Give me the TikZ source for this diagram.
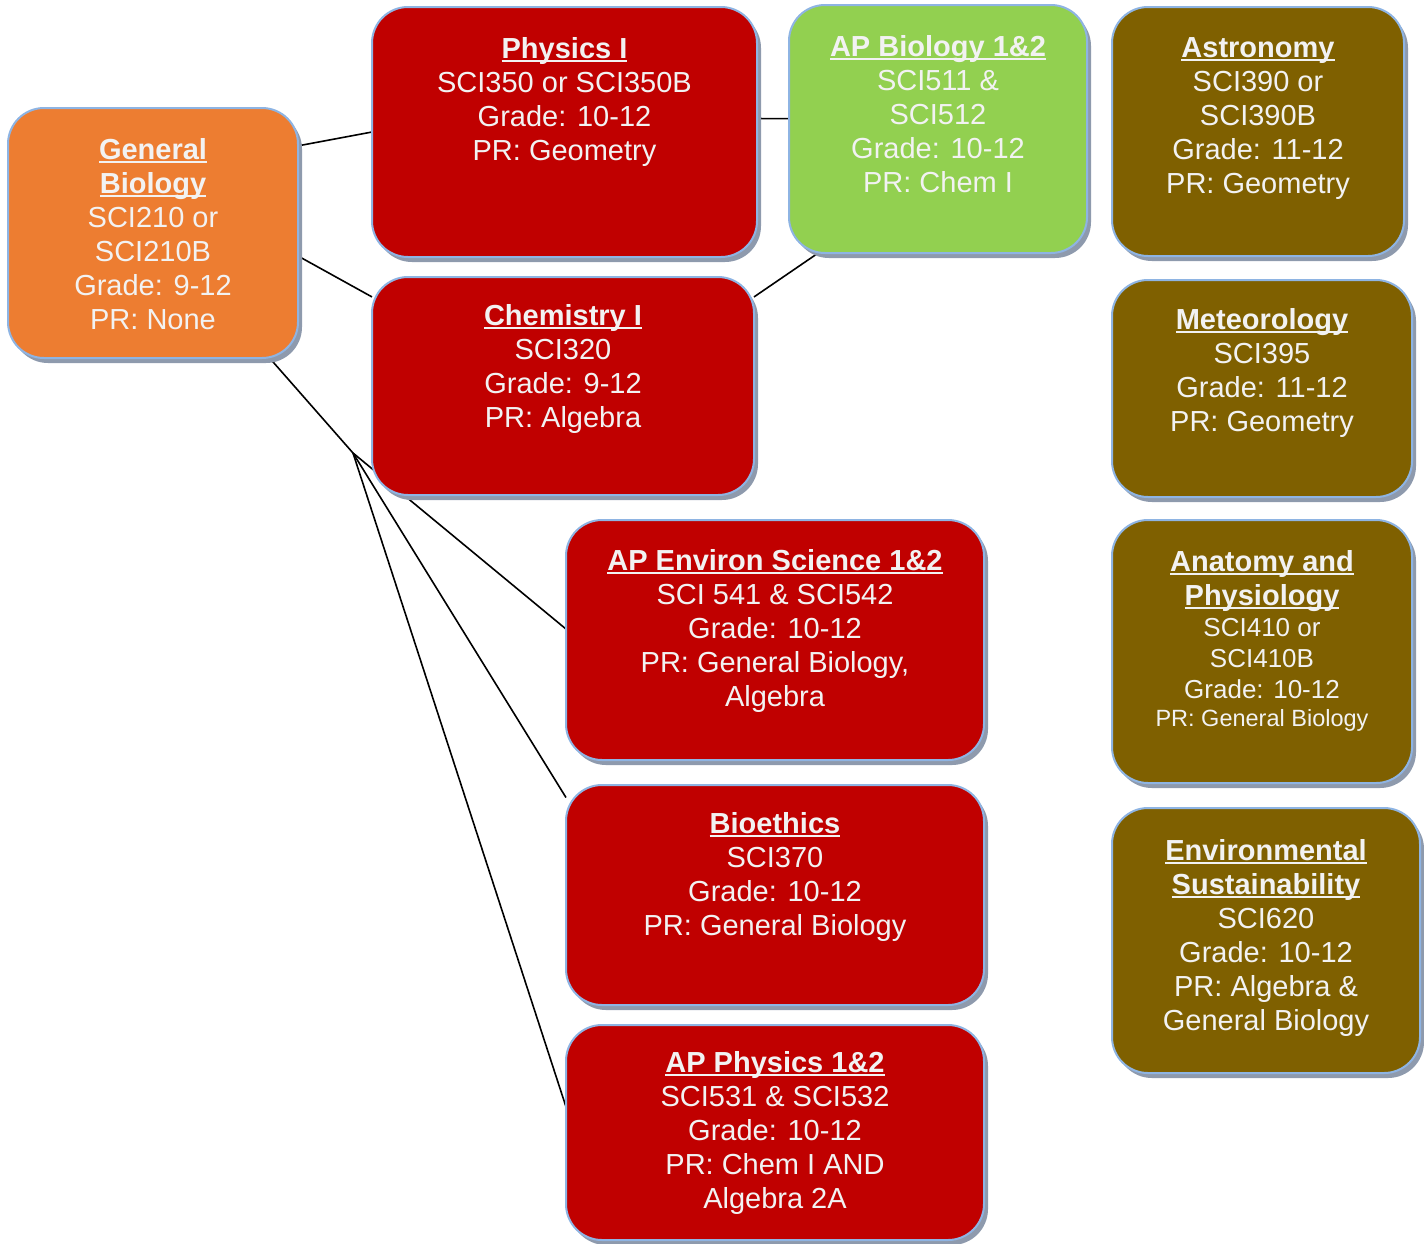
\documentclass[tikz,border=0pt]{standalone}
\usepackage{fontspec}
\setmainfont{Liberation Sans}
\usepackage{tikz}
\usetikzlibrary{shadows,backgrounds}

\definecolor{boxred}{HTML}{C00000}
\definecolor{boxorange}{HTML}{ED7D31}
\definecolor{boxgreen}{HTML}{92D050}
\definecolor{boxbrown}{HTML}{7F6000}
\definecolor{boxedge}{HTML}{8EB4E3}
\definecolor{boxshade}{HTML}{8E9AAD}
\definecolor{boxtext}{HTML}{F2F2F2}

\newcommand\crstitle[1]{\textbf{\setbox0\hbox{#1}\rlap{\rule[-3.5pt]{\wd0}{2pt}}\box0}}

\begin{document}
\begin{tikzpicture}[x=1pt, y=-1pt,
        course/.style={draw=boxedge, line width=2pt, rounded corners=36pt, outer sep=0pt,
            drop shadow={shadow xshift=4pt, shadow yshift=-5pt, fill=boxshade, opacity=1}},
        info/.style={anchor=north, inner sep=0pt, align=center, text=boxtext,
            font=\fontsize{29}{34}\selectfont, yshift=-30pt},
        link/.style={black, line width=1.6pt}]
                \useasboundingbox (0,0) rectangle (1424,1243);

                \node[course, fill=boxorange, minimum width=290pt, minimum height=250pt] (gb) at (153,233) {};
                \node[course, fill=boxred, minimum width=385pt, minimum height=250pt] (phys) at (564.5,132) {};
                \node[course, fill=boxgreen, minimum width=298pt, minimum height=248pt] (apbio) at (938,129) {};
                \node[course, fill=boxbrown, minimum width=292pt, minimum height=249pt] (astro) at (1258,131.5) {};
                \node[course, fill=boxred, minimum width=382pt, minimum height=218pt] (chem) at (563,386) {};
                \node[course, fill=boxbrown, minimum width=300pt, minimum height=217pt] (meteo) at (1262,388.5) {};
                \node[course, fill=boxred, minimum width=418pt, minimum height=240pt] (envs) at (775,640) {};
                \node[course, fill=boxbrown, minimum width=300pt, minimum height=263pt] (anat) at (1262,651.5) {};
                \node[course, fill=boxred, minimum width=418pt, minimum height=220pt] (bioe) at (775,895) {};
                \node[course, fill=boxbrown, minimum width=308pt, minimum height=265pt] (sust) at (1266,940.5) {};
                \node[course, fill=boxred, minimum width=418pt, minimum height=215pt] (apph) at (775,1132.5) {};

                \node[info] (gbT) at (gb.north) {\crstitle{General}\\\crstitle{Biology}\\SCI210 or\\SCI210B\\Grade: 9-12\\PR: None};
                \node[info] (physT) at (phys.north) {\crstitle{Physics I}\\SCI350 or SCI350B\\Grade: 10-12\\PR: Geometry};
                \node[info] (apbioT) at (apbio.north) {\crstitle{AP Biology 1\&2}\\SCI511 \&\\SCI512\\Grade: 10-12\\PR: Chem I};
                \node[info] (astroT) at (astro.north) {\crstitle{Astronomy}\\SCI390 or\\SCI390B\\Grade: 11-12\\PR: Geometry};
                \node[info, yshift=3pt] (chemT) at (chem.north) {\crstitle{Chemistry I}\\SCI320\\Grade: 9-12\\PR: Algebra};
                \node[info, yshift=2pt] (meteoT) at (meteo.north) {\crstitle{Meteorology}\\SCI395\\Grade: 11-12\\PR: Geometry};
                \node[info, yshift=1pt] (envsT) at (envs.north) {\crstitle{AP Environ Science 1\&2}\\SCI 541 \& SCI542\\Grade: 10-12\\PR: General Biology,\\Algebra};
                \node[info] (anatT) at (anat.north) {\crstitle{Anatomy and}\\\crstitle{Physiology}\\[-3pt]{\fontsize{26}{31}\selectfont SCI410 or}\\[-3pt]{\fontsize{26}{31}\selectfont SCI410B}\\[-3pt]{\fontsize{26}{31}\selectfont Grade: 10-12}\\[-6pt]{\fontsize{23.5}{29}\selectfont PR: General Biology}};
                \node[info, yshift=3pt] (bioeT) at (bioe.north) {\crstitle{Bioethics}\\SCI370\\Grade: 10-12\\PR: General Biology};
                \node[info, yshift=-1pt] (sustT) at (sust.north) {\crstitle{Environmental}\\\crstitle{Sustainability}\\SCI620\\Grade: 10-12\\PR: Algebra \&\\General Biology};
                \node[info, yshift=4pt] (apphT) at (apph.north) {\crstitle{AP Physics 1\&2}\\SCI531 \& SCI532\\Grade: 10-12\\PR: Chem I AND\\Algebra 2A};

                \coordinate (fan) at (353,453);
                \begin{pgfonlayer}{background}
                \draw[link] (gb.31) -- (phys.west);
                \draw[link] (gb.-9) -- (chem.155);
                \draw[link] (phys.4) -- (apbio.176);
                \draw[link] (chem.25) -- (apbio.226);
                \draw[link] (gb.-47) -- (fan);
                \draw[link] (fan) -- (envs.177);
                \draw[link] (fan) -- (bioe.155);
                \draw[link] (fan) -- (apph.173);
                \end{pgfonlayer}
            \end{tikzpicture}
\end{document}
